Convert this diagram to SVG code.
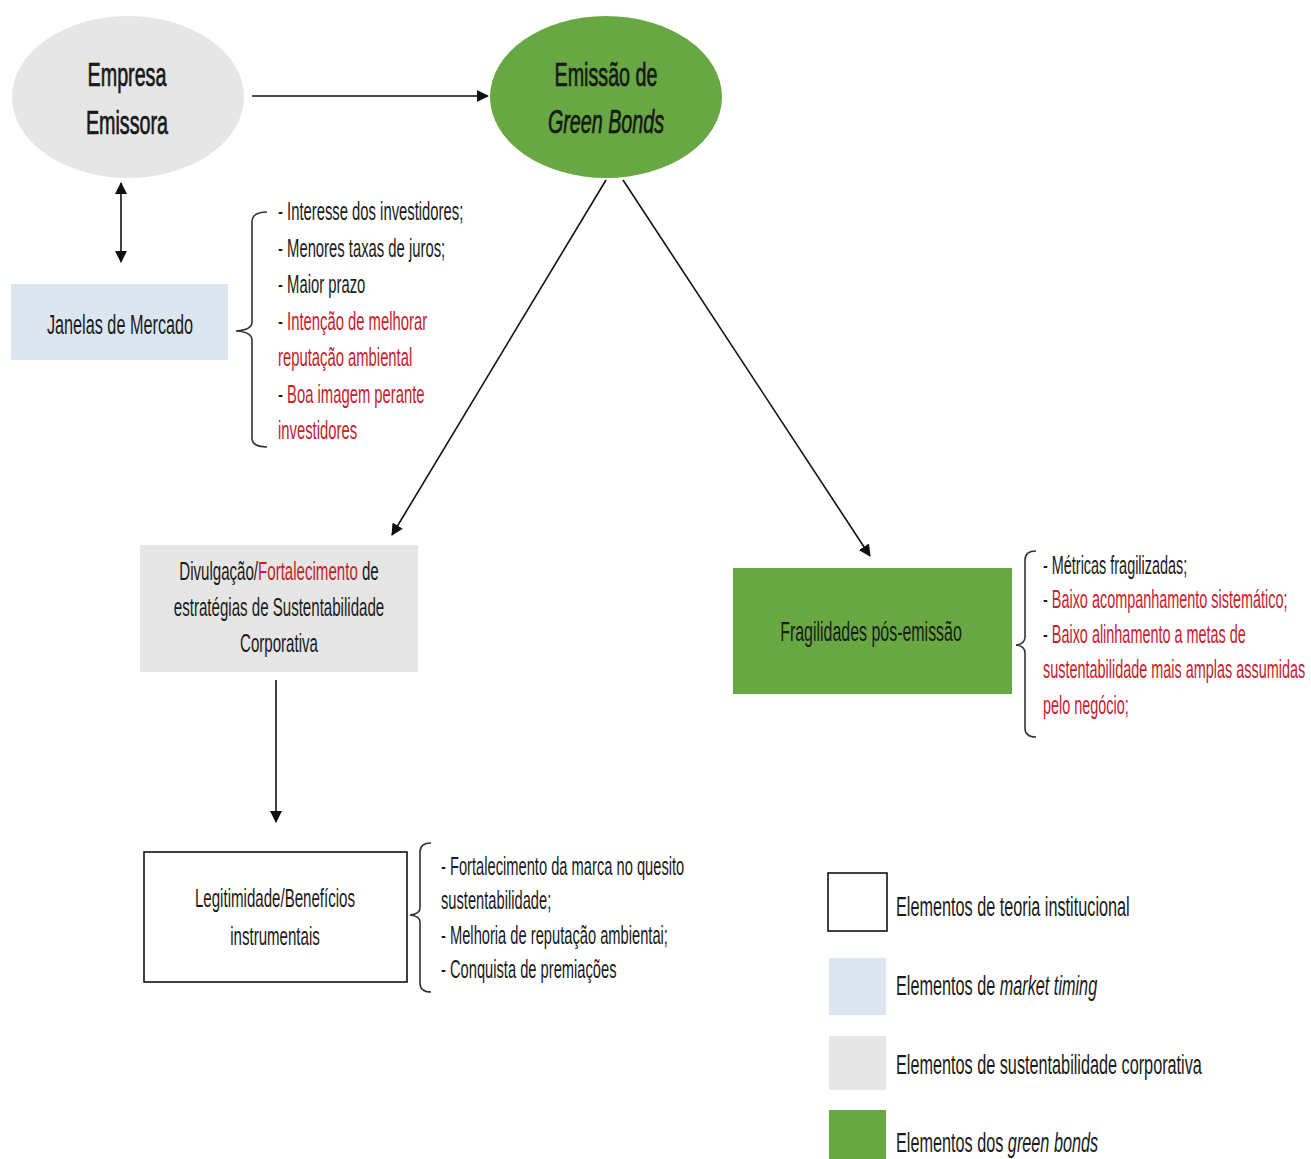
<svg xmlns="http://www.w3.org/2000/svg" width="1311" height="1159" viewBox="0 0 1311 1159">
<style>
text{font-family:"Liberation Sans",Arial,sans-serif;fill:#1a1a1a}
.c{text-anchor:middle}
.r{fill:#c8202c}
.i{font-style:italic}
.b{stroke:#111;stroke-width:0.7}
.br{fill:none;stroke:#333;stroke-width:1.6}
.cn{stroke:#111;stroke-width:1.6;fill:none}
.t26{font-size:26px}
.t28{font-size:28px}
.t34{font-size:34px}
</style>
<defs>
<marker id="ah" viewBox="0 0 12 12" refX="11" refY="6" markerWidth="12" markerHeight="12" markerUnits="userSpaceOnUse" orient="auto-start-reverse">
<path d="M0,0 L12,6 L0,12 z" fill="#111"/>
</marker>
</defs>
<rect width="1311" height="1159" fill="#fff"/>

<g id="connectors">
<line class="cn" x1="252" y1="96" x2="488" y2="96" marker-end="url(#ah)"/>
<line class="cn" x1="121" y1="183" x2="121" y2="262" marker-start="url(#ah)" marker-end="url(#ah)"/>
<line class="cn" x1="606" y1="180" x2="392" y2="535" marker-end="url(#ah)"/>
<line class="cn" x1="623" y1="180" x2="870" y2="556" marker-end="url(#ah)"/>
<line class="cn" x1="276" y1="680" x2="276" y2="822" marker-end="url(#ah)"/>
</g>

<g id="empresa">
<ellipse cx="128" cy="97" rx="116" ry="81" fill="#e6e6e6"/>
<text class="c t34 b" transform="matrix(0.58 0 0 1 127 86)">Empresa</text>
<text class="c t34 b" transform="matrix(0.58 0 0 1 127 134)">Emissora</text>
</g>

<g id="emissao">
<ellipse cx="606" cy="97" rx="116" ry="81" fill="#68a843"/>
<text class="c t34 b" transform="matrix(0.58 0 0 1 606 86)">Emissão de</text>
<text class="c t34 i b" transform="matrix(0.58 0 0 1 606 133)">Green Bonds</text>
</g>

<g id="janelas">
<rect x="11" y="284" width="217" height="76" fill="#dce6f1"/>
<text class="c t28" transform="matrix(0.58 0 0 1 120 334)">Janelas de Mercado</text>
</g>

<g id="lista-janelas">
<path class="br" d="M267,212 Q252,212 252,222 L252,322 Q252,330 236,331 Q252,332 252,340 L252,438 Q252,447 267,447"/>
<text class="t26" transform="matrix(0.57 0 0 1 278 220)">- Interesse dos investidores;</text>
<text class="t26" transform="matrix(0.57 0 0 1 278 257)">- Menores taxas de juros;</text>
<text class="t26" transform="matrix(0.57 0 0 1 278 293)">- Maior prazo</text>
<text class="t26" transform="matrix(0.57 0 0 1 278 330)">- <tspan class="r">Intenção de melhorar</tspan></text>
<text class="t26 r" transform="matrix(0.57 0 0 1 278 366)">reputação ambiental</text>
<text class="t26" transform="matrix(0.57 0 0 1 278 403)">- <tspan class="r">Boa imagem perante</tspan></text>
<text class="t26 r" transform="matrix(0.57 0 0 1 278 439)">investidores</text>
</g>

<g id="divulgacao">
<rect x="140" y="545" width="278" height="127" fill="#e7e6e6"/>
<text class="c t26" transform="matrix(0.58 0 0 1 279 580)">Divulgação/<tspan class="r">Fortalecimento</tspan> de</text>
<text class="c t26" transform="matrix(0.58 0 0 1 279 616)">estratégias de Sustentabilidade</text>
<text class="c t26" transform="matrix(0.58 0 0 1 279 652)">Corporativa</text>
</g>

<g id="fragilidades">
<rect x="733" y="568" width="279" height="126" fill="#68a843"/>
<text class="c t28" transform="matrix(0.57 0 0 1 871 641)">Fragilidades pós-emissão</text>
</g>

<g id="lista-fragilidades">
<path class="br" d="M1036,551 Q1025,551 1025,560 L1025,637 Q1025,644 1016,645 Q1025,646 1025,653 L1025,728 Q1025,737 1036,737"/>
<text class="t26" transform="matrix(0.555 0 0 1 1043 574)">- Métricas fragilizadas;</text>
<text class="t26" transform="matrix(0.555 0 0 1 1043 608)">- <tspan class="r">Baixo acompanhamento sistemático;</tspan></text>
<text class="t26" transform="matrix(0.555 0 0 1 1043 643)">- <tspan class="r">Baixo alinhamento a metas de</tspan></text>
<text class="t26 r" transform="matrix(0.555 0 0 1 1043 678)">sustentabilidade mais amplas assumidas</text>
<text class="t26 r" transform="matrix(0.555 0 0 1 1043 714)">pelo negócio;</text>
</g>

<g id="legitimidade">
<rect x="144" y="852" width="263" height="130" fill="#fff" stroke="#111" stroke-width="1.6"/>
<text class="c t26" transform="matrix(0.58 0 0 1 275 907)">Legitimidade/Benefícios</text>
<text class="c t26" transform="matrix(0.58 0 0 1 275 945)">instrumentais</text>
</g>

<g id="lista-legitimidade">
<path class="br" d="M431,843 Q420,843 420,852 L420,908 Q420,914 410,915 Q420,916 420,922 L420,983 Q420,992 431,992"/>
<text class="t26" transform="matrix(0.565 0 0 1 441 875)">- Fortalecimento da marca no quesito</text>
<text class="t26" transform="matrix(0.565 0 0 1 441 909)">sustentabilidade;</text>
<text class="t26" transform="matrix(0.565 0 0 1 441 944)">- Melhoria de reputação ambientai;</text>
<text class="t26" transform="matrix(0.565 0 0 1 441 978)">- Conquista de premiações</text>
</g>

<g id="legenda">
<rect x="828" y="873" width="59" height="58" fill="#fff" stroke="#111" stroke-width="1.6"/>
<rect x="829" y="958" width="57" height="57" fill="#dce6f1"/>
<rect x="829" y="1036" width="57" height="54" fill="#e7e6e6"/>
<rect x="829" y="1110" width="57" height="49" fill="#68a843"/>
<text class="t28" transform="matrix(0.58 0 0 1 896 916)">Elementos de teoria institucional</text>
<text class="t28" transform="matrix(0.58 0 0 1 896 995)">Elementos de <tspan class="i">market timing</tspan></text>
<text class="t28" transform="matrix(0.58 0 0 1 896 1074)">Elementos de sustentabilidade corporativa</text>
<text class="t28" transform="matrix(0.58 0 0 1 896 1152)">Elementos dos <tspan class="i">green bonds</tspan></text>
</g>
</svg>
